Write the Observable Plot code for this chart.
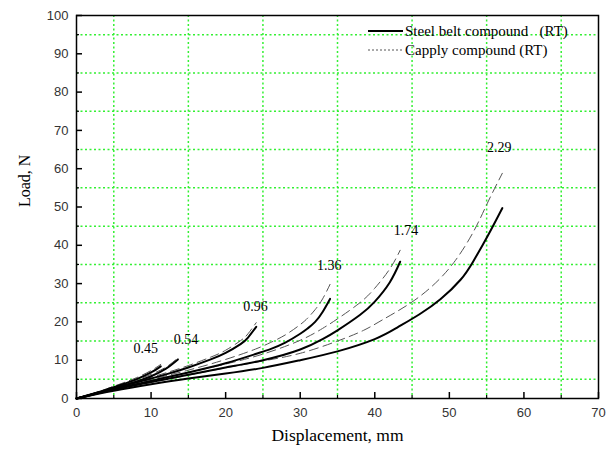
<!DOCTYPE html>
<html>
<head>
<meta charset="utf-8">
<script src="https://cdn.jsdelivr.net/npm/d3@7"></script>
<script src="https://cdn.jsdelivr.net/npm/@observablehq/plot@0.6"></script>
<style>
  html, body { margin: 0; padding: 0; background: white; }
  #wrap { position: relative; width: 613px; height: 455px; }
  #legend { position: absolute; left: 0; top: 0; pointer-events: none; }
</style>
</head>
<body>
<div id="wrap"></div>
<script>
// ---- data ----
const xMajor = [0, 10, 20, 30, 40, 50, 60, 70];
const xMinor = [5, 15, 25, 35, 45, 55, 65];
const yMajor = [0, 10, 20, 30, 40, 50, 60, 70, 80, 90, 100];
const yMinor = [5, 15, 25, 35, 45, 55, 65, 75, 85, 95];

const curveNames = ["0.45", "0.54", "0.96", "1.36", "1.74", "2.29"];

// Steel belt compound (RT) — solid
const steel045 = [[0,0],[2,1.1],[4,2.3],[6,3.6],[8,5.0],[10,6.8],[11.3,8.4]];
const steel054 = [[0,0],[2,1.0],[4,2.1],[6,3.2],[8,4.4],[10,5.8],[12,7.8],[13.6,10.2]];
const steel096 = [[0,0],[3,1.6],[6,3.2],[9,4.7],[12,6.3],[15,8.1],[18,10.2],[20,11.9],[22,14.2],[23,15.9],[24.1,18.7]];
const steel136 = [[0,0],[5,2.4],[10,4.6],[15,6.8],[20,9.2],[24,11.6],[26,12.9],[28,14.6],[30,16.9],[31,18.3],[32,20.0],[33,22.6],[34,26.0]];
const steel174 = [[0,0],[5,2.3],[10,4.3],[15,6.2],[20,8.1],[25,10.0],[30,12.8],[33,15.5],[35,17.8],[38,21.8],[40,25.3],[42,30.3],[43.4,35.7]];
const steel229 = [[0,0],[5,2.0],[10,3.7],[15,5.2],[20,6.5],[25,8.0],[30,10.0],[35,12.3],[40,15.5],[43,18.5],[46,22.0],[48.8,25.9],[51.5,31.0],[53.2,35.8],[55.1,42.3],[57.1,49.7]];

// Capply compound (RT) — dashed
const capply045 = [[0,0],[2,1.2],[4,2.5],[6,3.9],[8,5.4],[10,7.3],[11.3,8.9]];
const capply054 = [[0,0],[2,1.1],[4,2.3],[6,3.5],[8,4.8],[10,6.3],[12,8.2],[13.6,10.6]];
const capply096 = [[0,0],[3,1.7],[6,3.4],[9,5.0],[12,6.7],[15,8.6],[18,10.8],[20,12.6],[22,15.1],[23,16.9],[24.1,19.8]];
const capply136 = [[0,0],[5,2.6],[10,5.0],[15,7.4],[20,10.2],[24,12.9],[26,14.6],[28,16.6],[30,19.3],[31,21.0],[32,23.2],[33,26.0],[34,29.8]];
const capply174 = [[0,0],[5,2.5],[10,4.7],[15,6.8],[20,9.0],[25,11.6],[30,15.2],[33,18.3],[35,20.8],[38,25.0],[40,28.8],[42,33.8],[43.4,38.7]];
const capply229 = [[0,0],[5,2.2],[10,4.2],[15,6.1],[20,8.0],[25,9.8],[30,11.8],[35,15.0],[38.5,17.8],[41,20.5],[44.3,24.3],[47.5,29.0],[50.6,35.5],[53.3,43.8],[55.1,51.0],[57.1,58.8]];

// curve label positions (data units)
const labelX = [9.3, 14.7, 24.0, 33.9, 44.2, 56.7];
const labelY = [13.0, 15.4, 23.9, 34.6, 43.8, 65.6];

const legendNames = ["Steel belt compound   (RT)", "Capply compound (RT)"];

// ---- build tables ----
const steelSets = [steel045, steel054, steel096, steel136, steel174, steel229];
const capplySets = [capply045, capply054, capply096, capply136, capply174, capply229];
const toRows = (sets) => sets.flatMap((pts, i) => pts.map(([x, y]) => ({id: curveNames[i], x, y})));
const steelRows = toRows(steelSets);
const capplyRows = toRows(capplySets);
const labelRows = curveNames.map((t, i) => ({t, x: labelX[i], y: labelY[i]}));

const serif = "'Liberation Serif', 'Times New Roman', serif";
const sans = "'Liberation Sans', Arial, sans-serif";
const green = "#33f033";

const chart = Plot.plot({
  width: 613,
  height: 455,
  marginLeft: 76,
  marginRight: 15,
  marginTop: 15,
  marginBottom: 57,
  style: {fontFamily: serif, background: "white", overflow: "visible"},
  x: {domain: [0, 70]},
  y: {domain: [0, 100]},
  marks: [
    Plot.gridX(xMinor, {stroke: green, strokeOpacity: 1, strokeWidth: 1.5, strokeDasharray: "2,2.5"}),
    Plot.gridY(yMinor, {stroke: green, strokeOpacity: 1, strokeWidth: 1.5, strokeDasharray: "2,2.5"}),
    // tick labels
    Plot.axisX(xMajor, {tickSize: 0, tickPadding: 9, fontSize: 13, fontFamily: sans, fill: "#333", label: null}),
    Plot.axisY(yMajor, {tickSize: 0, tickPadding: 8, fontSize: 13, fontFamily: sans, fill: "#333", label: null}),
    // inward ticks
    Plot.axisX(xMajor, {tickSize: -6, tickFormat: () => "", label: null, stroke: "black", strokeWidth: 1.5}),
    Plot.axisX(xMinor, {tickSize: -3, tickFormat: () => "", label: null, stroke: "black", strokeWidth: 1.2}),
    Plot.axisY(yMajor, {tickSize: -6, tickFormat: () => "", label: null, stroke: "black", strokeWidth: 1.5}),
    Plot.axisY(yMinor, {tickSize: -3, tickFormat: () => "", label: null, stroke: "black", strokeWidth: 1.2}),
    // curves
    Plot.line(capplyRows, {x: "x", y: "y", z: "id", stroke: "#555", strokeWidth: 1, strokeDasharray: "9,5", curve: "natural"}),
    Plot.line(steelRows, {x: "x", y: "y", z: "id", stroke: "black", strokeWidth: 2, curve: "natural"}),
    Plot.text(labelRows, {x: "x", y: "y", text: "t", fontSize: 14, fontFamily: serif, fill: "black"}),
    // axis titles
    Plot.text(["Load, N"], {frameAnchor: "left", rotate: -90, dx: -52, fontSize: 16, fontFamily: serif, fill: "black"}),
    Plot.text(["Displacement, mm"], {frameAnchor: "bottom", dy: 42, fontSize: 17.5, fontFamily: serif, fill: "black"}),
    Plot.frame({stroke: "black", strokeWidth: 1.5})
  ]
});

const wrap = document.getElementById("wrap");
wrap.appendChild(chart);

// legend overlay (inside the plot frame, top right)
const ns = "http://www.w3.org/2000/svg";
const leg = document.createElementNS(ns, "svg");
leg.setAttribute("id", "legend");
leg.setAttribute("width", 613);
leg.setAttribute("height", 455);
const rows = [
  {y: 31, stroke: "black", w: 2, dash: null},
  {y: 50, stroke: "#555", w: 1, dash: "2,2"}
];
rows.forEach((r, i) => {
  const ln = document.createElementNS(ns, "line");
  ln.setAttribute("x1", 368); ln.setAttribute("x2", 403);
  ln.setAttribute("y1", r.y); ln.setAttribute("y2", r.y);
  ln.setAttribute("stroke", r.stroke);
  ln.setAttribute("stroke-width", r.w);
  if (r.dash) ln.setAttribute("stroke-dasharray", r.dash);
  leg.appendChild(ln);
  const tx = document.createElementNS(ns, "text");
  tx.setAttribute("x", 405);
  tx.setAttribute("y", r.y + 5);
  tx.setAttribute("font-family", serif);
  tx.setAttribute("font-size", 15);
  tx.setAttribute("xml:space", "preserve");
  tx.style.whiteSpace = "pre";
  tx.textContent = legendNames[i];
  leg.appendChild(tx);
});
wrap.appendChild(leg);
</script>
</body>
</html>
